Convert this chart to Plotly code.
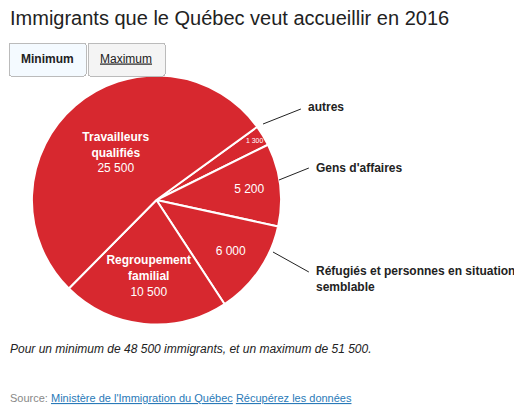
import plotly.graph_objects as go

FONT = 'Liberation Sans, Arial, sans-serif'
RED = '#d7282f'

CATEGORIES = ['autres', "Gens d'affaires", 'Réfugiés et personnes en situation semblable',
              'Regroupement familial', 'Travailleurs qualifiés']
VALUES = [1300, 5200, 6000, 10500, 25500]
INSIDE_TEXT = ['1 300', '5 200', '6 000',
               '<b>Regroupement<br>familial</b><br>10 500',
               '<b>Travailleurs<br>qualifiés</b><br>25 500']

W, H = 522, 414
OX, OY = 8, 8  # page body offset


def px(x):
    return (x - OX) / W


def py(y):
    return 1 - (y - OY) / H


fig = go.Figure(go.Pie(
    labels=CATEGORIES, values=VALUES, text=INSIDE_TEXT,
    textinfo='text', textposition='inside', insidetextorientation='horizontal',
    sort=False, direction='clockwise', rotation=54,
    marker=dict(colors=[RED] * 5, line=dict(color='white', width=2)),
    textfont=dict(family=FONT, size=12, color='white'),
    domain=dict(x=[px(30), px(280)], y=[py(325), py(75)]),
    showlegend=False, hoverinfo='label+value',
))

# outside labels with leader lines
outside = [
    ('autres', 305, 107, [(262, 124), (300, 109)]),
    ("Gens d'affaires", 313, 168, [(278, 180), (308, 168)]),
    ('Réfugiés et personnes en situation<br>semblable', 313, 279, [(272, 252), (308, 272)]),
]
for txt, x, y, pts in outside:
    fig.add_annotation(x=px(x), y=py(y), xref='paper', yref='paper', text=f'<b>{txt}</b>',
                       showarrow=False, xanchor='left', yanchor='middle', align='left',
                       font=dict(family=FONT, size=12, color='#222'))
    (x0, y0), (x1, y1) = pts
    fig.add_shape(type='line', xref='paper', yref='paper', x0=px(x0), y0=py(y0),
                  x1=px(x1), y1=py(y1), line=dict(color='#222', width=1))

fig.add_annotation(x=px(6), y=py(18), xref='paper', yref='paper', showarrow=False,
                   xanchor='left', yanchor='middle',
                   text='Immigrants que le Québec veut accueillir en 2016',
                   font=dict(family=FONT, size=20, color='#222'))
fig.add_annotation(x=px(6), y=py(349), xref='paper', yref='paper', showarrow=False,
                   xanchor='left', yanchor='middle',
                   text='<i>Pour un minimum de 48 500 immigrants, et un maximum de 51 500.</i>',
                   font=dict(family=FONT, size=12, color='#222'))
fig.add_annotation(x=px(6), y=py(398), xref='paper', yref='paper', showarrow=False,
                   xanchor='left', yanchor='middle',
                   text="<span style='color:#888'>Source: </span><u>Ministère de l'Immigration du Québec</u> <u>Récupérez les données</u>",
                   font=dict(family=FONT, size=11, color='#2a7ab8'))

fig.update_layout(
    width=W, height=H, margin=dict(l=0, r=0, t=0, b=0),
    paper_bgcolor='white', plot_bgcolor='white',
    font=dict(family=FONT, size=12, color='#222'),
    updatemenus=[dict(
        type='buttons', direction='right', showactive=True, active=0,
        x=px(6), y=py(42), xanchor='left', yanchor='top',
        pad=dict(l=0, r=0, t=0, b=0),
        bgcolor='#f4f4f4', bordercolor='#bbb',
        font=dict(family=FONT, size=12, color='#222'),
        buttons=[dict(label='<b>Minimum</b>', method='skip', args=[None]),
                 dict(label='<u>Maximum</u>', method='skip', args=[None])],
    )],
)
fig.write_html('out.html')
